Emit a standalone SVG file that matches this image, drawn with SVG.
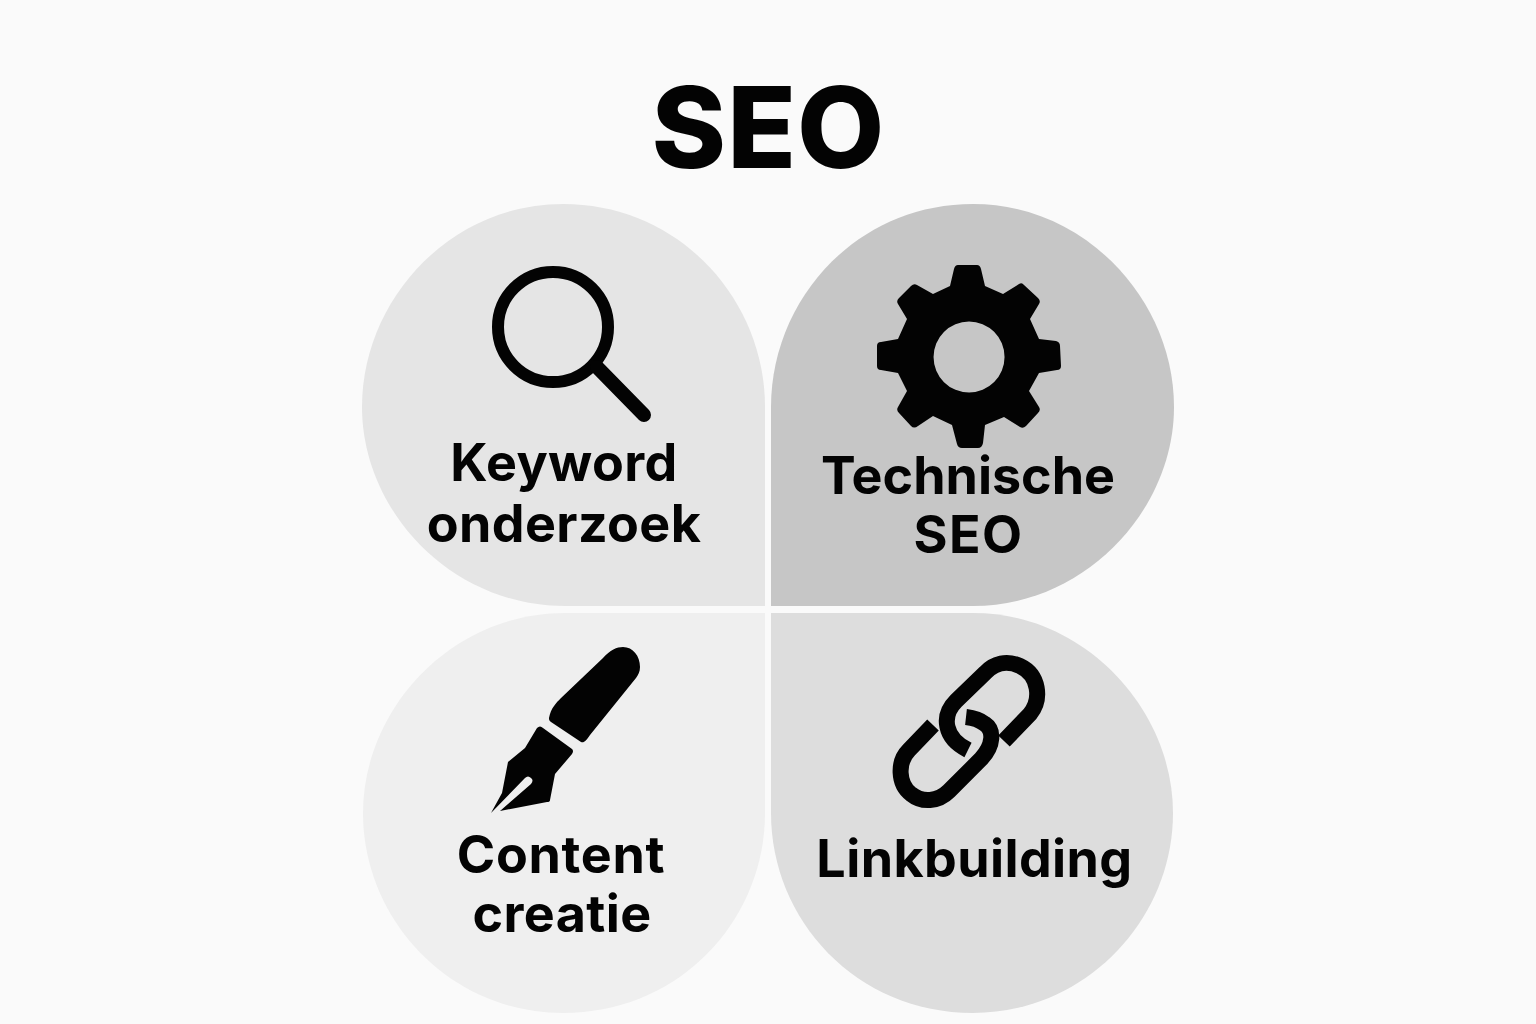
<svg xmlns="http://www.w3.org/2000/svg" width="1536" height="1024" viewBox="0 0 1536 1024">
<style>
text{font-family:"Inter","Liberation Sans",sans-serif;font-weight:700;fill:#030303;text-anchor:middle}
.l{font-size:52px;letter-spacing:.4px}
.i{fill:none;stroke:#030303}
</style>
<rect width="1536" height="1024" fill="#fafafa"/>
<text x="768.500" y="168" style="font-size:113px;font-weight:800;letter-spacing:1px">SEO</text>
<g id="keyword">
<path d="M765 606H565C450 606 362 510 362 407C362 300 450 204 563 204C680 204 765 300 765 407Z" fill="#e5e5e5"/>
<circle class="i" cx="553" cy="327" r="55" stroke-width="12"/>
<path class="i" d="M597 367L644 415" stroke-width="14" stroke-linecap="round"/>
<text class="l" x="564" y="481">Keyword</text>
<text class="l" x="564" y="542">onderzoek</text>
</g>
<g id="technische">
<path d="M771 606H973C1085 606 1174 510 1174 407C1174 300 1085 204 973 204C856 204 771 300 771 407Z" fill="#c6c6c6"/>
<path fill="#030303" fill-rule="evenodd" d="M958 265H977Q980 265 981 269L985 286L1003 294L1019 284Q1022 282 1024 285L1038 298Q1041 301 1039 304L1030 319L1039 339L1056 341Q1060 342 1060 346L1061 366Q1061 370 1057 370L1039 373L1029 391L1039 407Q1041 410 1038 413L1026 426Q1023 429 1020 427L1004 417L985 425L983 443Q982 448 978 448H962Q958 448 957 444L952 425L933 416L918 426Q914 429 911 426L899 413Q896 410 898 407L907 391L898 373L881 370Q877 370 877 366V346Q877 342 881 342L898 339L907 319L898 304Q896 301 899 298L911 286Q914 283 917 285L933 294L950 286L954 269Q955 265 958 265ZM969 321.500A35.500 35.500 0 1 0 969.100 392.500A35.500 35.500 0 1 0 969 321.500Z"/>
<text class="l" x="968" y="494" style="letter-spacing:0">Technische</text>
<text class="l" x="968.500" y="553" style="letter-spacing:1.500px">SEO</text>
</g>
<g id="content">
<path d="M765 613H565C450 613 363 710 363 813C363 920 450 1013 563 1013C680 1013 765 920 765 813Z" fill="#efefef"/>
<path fill="#030303" d="M549 718C551 708 556 703 561 698L603 658C610 650 617 647 623 647C633 647 640 656 640 667C640 672 638 675 636 678L590 735C586 741 584 743 581 742L551 722C549 721 549 719 549 718Z"/>
<path fill="#030303" d="M537 728Q540 725 543 728L572 749Q574 751 572 754L555 774L550 800Q550 802 547 802L500 811L531 784Q534 780 531 778Q528 775 525 778L491 813L502 793L508 762L525 748Z"/>
<text class="l" x="561" y="873" style="letter-spacing:.7px">Content</text>
<text class="l" x="562" y="932">creatie</text>
</g>
<g id="linkbuilding">
<path d="M771 613H973C1085 613 1173 710 1173 813C1173 920 1085 1013 973 1013C856 1013 771 920 771 813Z" fill="#dddddd"/>
<path class="i" stroke-width="16" d="M1004 741L1030 714C1042 699 1039 675 1020 666C1007 660 994 663 985 673L956 701C941 716 944 738 968 750"/>
<path class="i" stroke-width="16" d="M933 725L909 750C897 762 898 784 911 794C922 803 938 802 949 791L981 759C994 745 994 730 985 724C980 720 975 718 966 717"/>
<text class="l" x="974.500" y="877">Linkbuilding</text>
</g>
</svg>
